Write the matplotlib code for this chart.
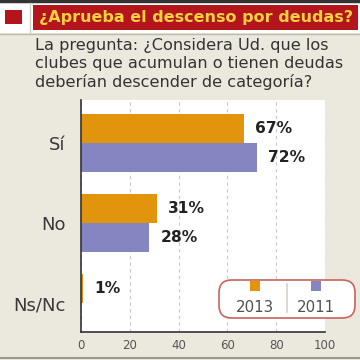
import matplotlib.pyplot as plt
from matplotlib.patches import Rectangle, FancyBboxPatch
from matplotlib.lines import Line2D

# datos
categorias = ["Sí", "No", "Ns/Nc"]
valores_2013 = [67, 31, 1]
valores_2011 = [72, 28, None]
series = ["2013", "2011"]
x_ticks = [0, 20, 40, 60, 80, 100]

color_2013 = "#e0950c"
color_2011 = "#8585c2"
rojo = "#b4141c"
fondo = "#ebe8de"

fig = plt.figure(figsize=(3.6, 3.6), dpi=100, facecolor=fondo)

# --- cabecera ---
fig.patches.append(Rectangle((0, 1 - 33/360), 1, 31/360, transform=fig.transFigure,
                             facecolor="white", edgecolor="none", zorder=0))
fig.add_artist(Line2D([0, 1], [1 - 1/360, 1 - 1/360], transform=fig.transFigure,
                      color="#333333", lw=2.5))
fig.add_artist(Line2D([0, 1], [1 - 33.5/360, 1 - 33.5/360], transform=fig.transFigure,
                      color="#bdbab0", lw=1))
fig.add_artist(Line2D([30/360, 30/360], [1 - 33/360, 1 - 3/360], transform=fig.transFigure,
                      color="#d0cdc5", lw=1))
fig.patches.append(Rectangle((5/360, 1 - 24/360), 17/360, 14/360, transform=fig.transFigure,
                             facecolor=rojo, edgecolor="none"))
fig.patches.append(Rectangle((33/360, 1 - 30/360), 325/360, 25/360, transform=fig.transFigure,
                             facecolor=rojo, edgecolor="none"))
fig.text(196/360, 1 - 17.5/360, "¿Aprueba el descenso por deudas?", ha="center", va="center",
         fontsize=11.5, fontweight="bold", color="#f7d23e")

fig.text(35/360, 1 - 38/360,
         "La pregunta: ¿Considera Ud. que los\nclubes que acumulan o tienen deudas\ndeberían descender de categoría?",
         ha="left", va="top", fontsize=11.6, color="#333333", linespacing=1.22)

# --- gráfico ---
ax = fig.add_axes([81/360, 1 - 332/360, 244/360, 232/360])
ax.set_facecolor("white")
h = 0.36
pos = list(range(len(categorias)))
ax.barh([p - h/2 for p in pos], valores_2013, height=h, color=color_2013, zorder=2)
pos_2011 = [p for p, v in zip(pos, valores_2011) if v is not None]
val_2011 = [v for v in valores_2011 if v is not None]
ax.barh([p + h/2 for p in pos_2011], val_2011, height=h, color=color_2011, zorder=2)

for p, v in zip(pos, valores_2013):
    ax.text(v + 4.5, p - h/2, f"{v}%", va="center", ha="left",
            fontsize=11.2, fontweight="bold", color="#222222")
for p, v in zip(pos_2011, val_2011):
    ax.text(v + 4.5, p + h/2, f"{v}%", va="center", ha="left",
            fontsize=11.2, fontweight="bold", color="#222222")

ax.set_xlim(0, 100)
ax.set_ylim(2.36, -0.54)
ax.set_xticks(x_ticks)
ax.set_xticklabels([str(t) for t in x_ticks], fontsize=8.5, color="#555555")
ax.set_yticks(pos)
ax.set_yticklabels(categorias, fontsize=13, color="#3a3a3a")
ax.tick_params(axis="y", length=0, pad=11)
ax.tick_params(axis="x", length=0, pad=5)
ax.xaxis.grid(True, linestyle=(0, (3, 3)), color="#c8c8c8", lw=0.8, zorder=0)
for s in ["top", "right"]:
    ax.spines[s].set_visible(False)
ax.spines["left"].set_color("#333333")
ax.spines["bottom"].set_color("#333333")
ax.spines["left"].set_linewidth(1.2)
ax.spines["bottom"].set_linewidth(1.2)

# --- leyenda ---
fig.patches.append(FancyBboxPatch((219/360, 1 - 318/360), 136/360, 38/360,
                                  boxstyle="round,pad=0,rounding_size=0.035",
                                  transform=fig.transFigure, facecolor="white",
                                  edgecolor="#c8645c", lw=1.2, zorder=5))
fig.add_artist(Line2D([287/360, 287/360], [1 - 312/360, 1 - 284/360], transform=fig.transFigure,
                      color="#d8cfc4", lw=1.2, zorder=6))
for cx, lab, col in zip([255, 316], series, [color_2013, color_2011]):
    fig.patches.append(Rectangle(((cx - 5)/360, 1 - 291/360), 10/360, 10/360,
                                 transform=fig.transFigure, facecolor=col,
                                 edgecolor="none", zorder=6))
    fig.text(cx/360, 1 - 307/360, lab, ha="center", va="center", fontsize=10.8,
             color="#505050", zorder=7)

fig.add_artist(Line2D([0, 1], [1 - 357.5/360, 1 - 357.5/360], transform=fig.transFigure,
                      color="#9a9890", lw=1.5))

fig.savefig("out.png", dpi=100, facecolor=fondo)
